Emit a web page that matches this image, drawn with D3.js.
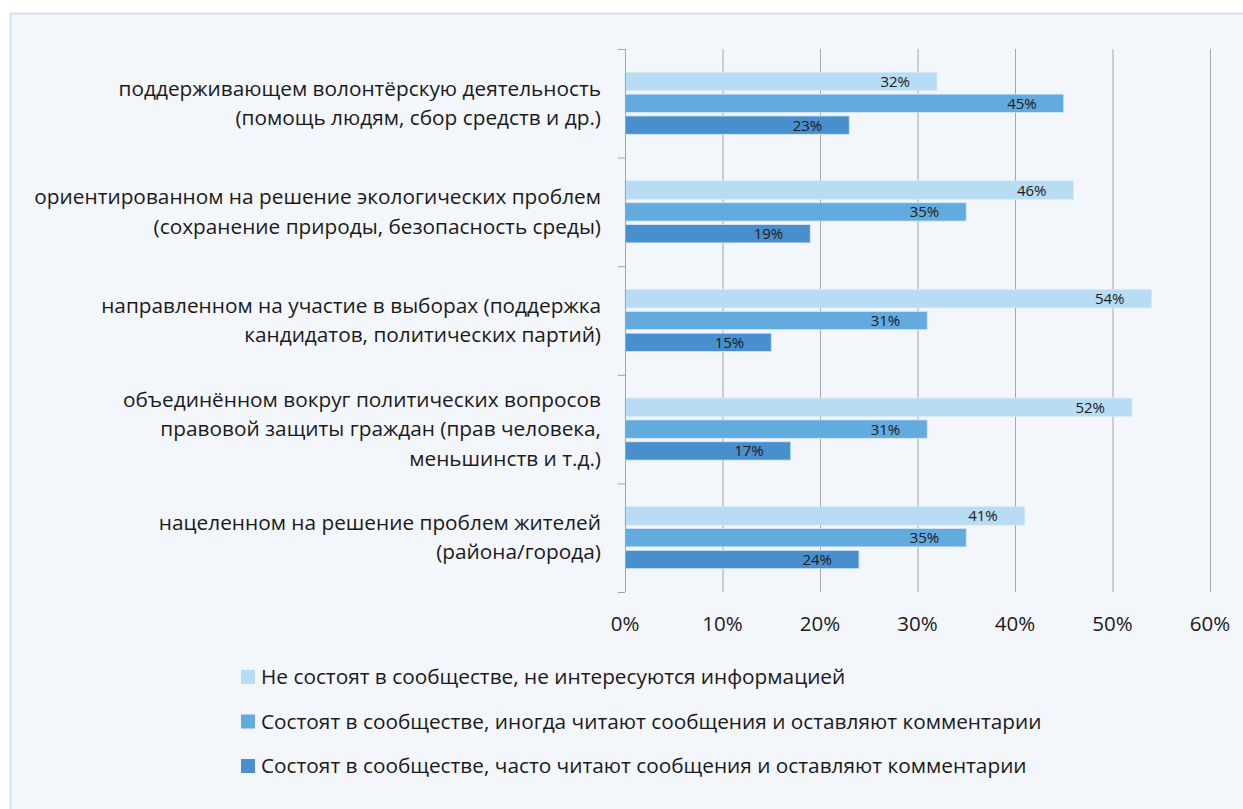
<!DOCTYPE html>
<html>
<head>
<meta charset="utf-8">
<script src="https://cdn.jsdelivr.net/npm/d3@7"></script>
<style>
  body { margin: 0; background: #fff; }
  text { font-family: "Open Sans", "Noto Sans", sans-serif; fill: #1a1a1a; }
</style>
</head>
<body>
<svg id="chart" width="1243" height="809"></svg>
<script>
// categories (each split into display lines)
var categories = [
    ["поддерживающем волонтёрскую деятельность", "(помощь людям, сбор средств и др.)"],
    ["ориентированном на решение экологических проблем", "(сохранение природы, безопасность среды)"],
    ["направленном на участие в выборах (поддержка", "кандидатов, политических партий)"],
    ["объединённом вокруг политических вопросов", "правовой защиты граждан (прав человека,", "меньшинств и т.д.)"],
    ["нацеленном на решение проблем жителей", "(района/города)"]
];
var seriesNames = [
    "Не состоят в сообществе, не интересуются информацией",
    "Состоят в сообществе, иногда читают сообщения и оставляют комментарии",
    "Состоят в сообществе, часто читают сообщения и оставляют комментарии"
];
var notInterested = [32, 46, 54, 52, 41];
var sometimes = [45, 35, 31, 31, 35];
var often = [23, 19, 15, 17, 24];
var xTicks = [0, 10, 20, 30, 40, 50, 60];
var colors = ["#b7dcf4", "#63aade", "#4a8fcd"];

var series = [notInterested, sometimes, often];

var svg = d3.select("#chart");

// background panel
svg.append("rect")
    .attr("x", 10.5).attr("y", 13.5)
    .attr("width", 1260).attr("height", 820)
    .attr("fill", "#f3f6fb")
    .attr("stroke", "#c9dcef")
    .attr("stroke-width", 1.5);

var x = d3.scaleLinear().domain([0, 60]).range([625, 1210]);
var y = d3.scaleBand()
    .domain(d3.range(categories.length))
    .range([49, 592])
    .paddingInner(0)
    .paddingOuter(0);
var inner = d3.scaleBand()
    .domain(d3.range(series.length))
    .range([y.bandwidth() / 2 - 31, y.bandwidth() / 2 + 31])
    .paddingInner(0.16);

// gridlines
svg.append("g")
    .selectAll("line")
    .data(xTicks.slice(1))
    .join("line")
        .attr("x1", function(d) { return x(d) + 0.5; })
        .attr("x2", function(d) { return x(d) + 0.5; })
        .attr("y1", 49).attr("y2", 592)
        .attr("stroke", "#a6a6a6")
        .attr("stroke-width", 1);

// x axis labels
svg.append("g")
    .selectAll("text")
    .data(xTicks)
    .join("text")
        .attr("x", function(d) { return x(d); })
        .attr("y", 631)
        .attr("text-anchor", "middle")
        .attr("font-size", 20.5)
        .text(function(d) { return d + "%"; });

// bars
var groups = svg.append("g")
    .selectAll("g")
    .data(categories)
    .join("g")
        .attr("transform", function(d, i) { return "translate(0," + y(i) + ")"; });

groups.each(function(cat, ci) {
    var g = d3.select(this);
    series.forEach(function(vals, si) {
        g.append("rect")
            .attr("x", x(0))
            .attr("y", inner(si))
            .attr("width", x(vals[ci]) - x(0))
            .attr("height", inner.bandwidth())
            .attr("fill", colors[si])
            .attr("stroke", "#d6e8f7")
            .attr("stroke-width", 0.8);
        g.append("text")
            .attr("x", x(vals[ci]) - 27)
            .attr("y", inner(si) + inner.bandwidth() / 2 + 5.5)
            .attr("text-anchor", "end")
            .attr("font-size", 15)
            .text(vals[ci] + "%");
    });

    // category label
    var lh = 29.5;
    var n = cat.length;
    g.append("text")
        .attr("text-anchor", "end")
        .attr("font-size", 20.8)
        .selectAll("tspan")
        .data(cat)
        .join("tspan")
            .attr("x", 601)
            .attr("y", function(d, k) { return y.bandwidth() / 2 + 7 + (k - (n - 1) / 2) * lh; })
            .text(function(d) { return d; });
});

// value axis line + ticks
svg.append("line")
    .attr("x1", x(0) + 0.5).attr("x2", x(0) + 0.5)
    .attr("y1", 49).attr("y2", 592)
    .attr("stroke", "#a6a6a6");
svg.append("g")
    .selectAll("line")
    .data(d3.range(categories.length + 1))
    .join("line")
        .attr("x1", x(0) - 7).attr("x2", x(0))
        .attr("y1", function(d) { return 49 + d * y.bandwidth() + 0.5; })
        .attr("y2", function(d) { return 49 + d * y.bandwidth() + 0.5; })
        .attr("stroke", "#a6a6a6");

// legend
var legend = svg.append("g")
    .selectAll("g")
    .data(seriesNames)
    .join("g")
        .attr("transform", function(d, i) { return "translate(241," + (684 + i * 44.5) + ")"; });
legend.append("rect")
    .attr("x", 0).attr("y", -14)
    .attr("width", 14).attr("height", 14)
    .attr("fill", function(d, i) { return colors[i]; });
legend.append("text")
    .attr("x", 20).attr("y", 0)
    .attr("font-size", 20.8)
    .text(function(d) { return d; });
</script>
</body>
</html>
